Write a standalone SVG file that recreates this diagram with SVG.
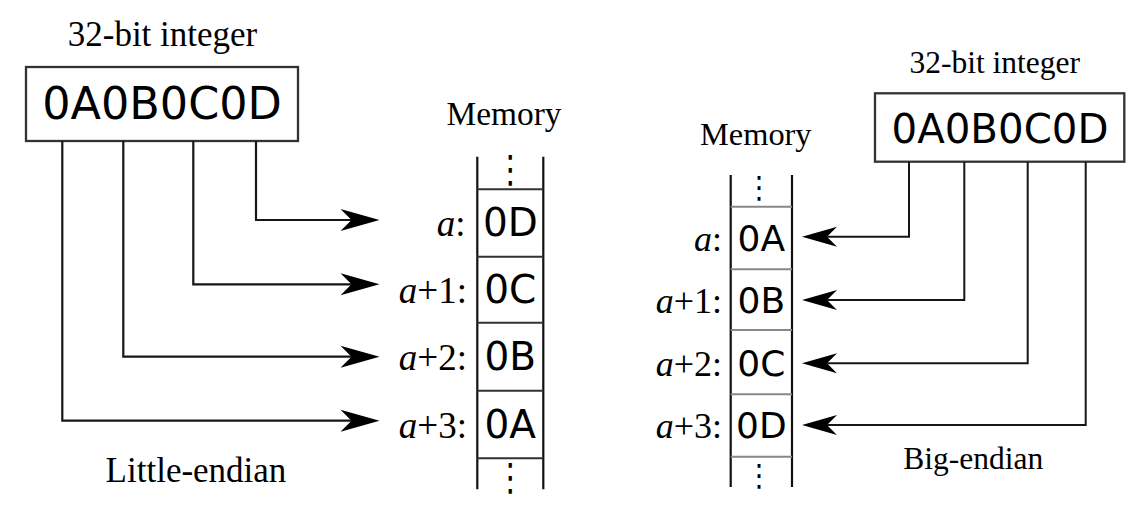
<svg xmlns="http://www.w3.org/2000/svg" width="1144" height="520" viewBox="0 0 1144 520">
<defs>
<style>
.serif{font-family:"Liberation Serif","Times New Roman",serif;fill:#000}
.sans{font-family:"DejaVu Sans","Bitstream Vera Sans",sans-serif;fill:#000}
.box{fill:#fff;stroke:#333;stroke-width:2.3}
.col{stroke:#111;stroke-width:2.2;fill:none}
.sepL{stroke:#333;stroke-width:2;fill:none}
.sepR{stroke:#888;stroke-width:2;fill:none}
.conn{stroke:#161616;stroke-width:2.2;fill:none}
.connR{stroke:#161616;stroke-width:2;fill:none}
.mid{text-anchor:middle}
.end{text-anchor:end}
</style>
<marker id="arrL" markerUnits="userSpaceOnUse" viewBox="-30 -12 42 24" markerWidth="42" markerHeight="24" refX="0" refY="0" orient="auto">
<path d="M10,0 L-29,-11 L-18,0 L-29,11 Z" fill="#000"/>
</marker>
<marker id="arrR" markerUnits="userSpaceOnUse" viewBox="-26 -11 37 22" markerWidth="37" markerHeight="22" refX="0" refY="0" orient="auto">
<path d="M10,0 L-25,-10 L-15,0 L-25,10 Z" fill="#000"/>
</marker>
</defs>

<!-- LEFT: little-endian -->
<g id="le-integer">
<text class="serif mid" x="162.5" y="46" font-size="35">32-bit integer</text>
<rect class="box" x="26" y="67" width="272" height="74"/>
<text class="sans mid" x="162" y="118.7" font-size="44.5">0A0B0C0D</text>
</g>

<g id="le-memory">
<text class="serif mid" x="504" y="125" font-size="33.4">Memory</text>
<path class="col" d="M477.3,156.7 V489.3 M543.3,156.7 V489.3"/>
<path class="sepL" d="M477.3,189.3 H543.3 M477.3,256.7 H543.3 M477.3,322.7 H543.3 M477.3,390.7 H543.3 M477.3,458.3 H543.3"/>
<text class="sans mid" font-size="31" transform="translate(510.3,182) scale(1,1.22)">⋮</text>
<text class="sans mid" font-size="31" transform="translate(510.3,490) scale(1,1.22)">⋮</text>
<text class="sans mid" x="510.3" y="236" font-size="39">0D</text>
<text class="sans mid" x="510.3" y="303" font-size="39">0C</text>
<text class="sans mid" x="510.3" y="370" font-size="39">0B</text>
<text class="sans mid" x="510.3" y="437.5" font-size="39">0A</text>
<text class="serif end" x="465.5" y="236" font-size="37"><tspan font-style="italic">a</tspan>:</text>
<text class="serif end" x="467" y="303" font-size="37"><tspan font-style="italic">a</tspan>+1:</text>
<text class="serif end" x="467" y="370" font-size="37"><tspan font-style="italic">a</tspan>+2:</text>
<text class="serif end" x="467" y="437.5" font-size="37"><tspan font-style="italic">a</tspan>+3:</text>
</g>

<g id="le-caption">
<text class="serif mid" x="196" y="482.3" font-size="35">Little-endian</text>
</g>

<g id="le-connectors">
<path class="conn" d="M256,141 V220 H369.5" marker-end="url(#arrL)"/>
<path class="conn" d="M193.3,141 V284.3 H369.5" marker-end="url(#arrL)"/>
<path class="conn" d="M123.3,141 V356.7 H369.5" marker-end="url(#arrL)"/>
<path class="conn" d="M62.3,141 V420.7 H369.5" marker-end="url(#arrL)"/>
</g>

<!-- RIGHT: big-endian -->
<g id="be-integer">
<text class="serif mid" x="994.7" y="73.3" font-size="31.5">32-bit integer</text>
<rect class="box" x="875" y="93.3" width="249.3" height="68.4"/>
<text class="sans mid" x="1000" y="143.3" font-size="40.3">0A0B0C0D</text>
</g>

<g id="be-memory">
<text class="serif mid" x="755.8" y="145" font-size="32.4">Memory</text>
<path class="col" d="M730.7,175 V487 M792,175 V487"/>
<path class="sepR" d="M730.7,206.7 H792 M730.7,269.3 H792 M730.7,330 H792 M730.7,394.3 H792 M730.7,456.7 H792"/>
<text class="sans mid" font-size="28" transform="translate(759,198) scale(1,1.1)">⋮</text>
<text class="sans mid" font-size="28" transform="translate(759,486) scale(1,1.1)">⋮</text>
<text class="sans mid" x="761.3" y="251" font-size="36">0A</text>
<text class="sans mid" x="761.3" y="313" font-size="36">0B</text>
<text class="sans mid" x="761.3" y="376" font-size="36">0C</text>
<text class="sans mid" x="761.3" y="438" font-size="36">0D</text>
<text class="serif end" x="722" y="251" font-size="36"><tspan font-style="italic">a</tspan>:</text>
<text class="serif end" x="722" y="313" font-size="36"><tspan font-style="italic">a</tspan>+1:</text>
<text class="serif end" x="722" y="376" font-size="36"><tspan font-style="italic">a</tspan>+2:</text>
<text class="serif end" x="722" y="438" font-size="36"><tspan font-style="italic">a</tspan>+3:</text>
</g>

<g id="be-caption">
<text class="serif mid" x="973.3" y="469" font-size="31.5">Big-endian</text>
</g>

<g id="be-connectors">
<path class="connR" d="M909,161.7 V236.7 H812" marker-end="url(#arrR)"/>
<path class="connR" d="M964.3,161.7 V300 H812" marker-end="url(#arrR)"/>
<path class="connR" d="M1027.7,161.7 V363.3 H812" marker-end="url(#arrR)"/>
<path class="connR" d="M1085.7,161.7 V425 H812" marker-end="url(#arrR)"/>
</g>
</svg>
